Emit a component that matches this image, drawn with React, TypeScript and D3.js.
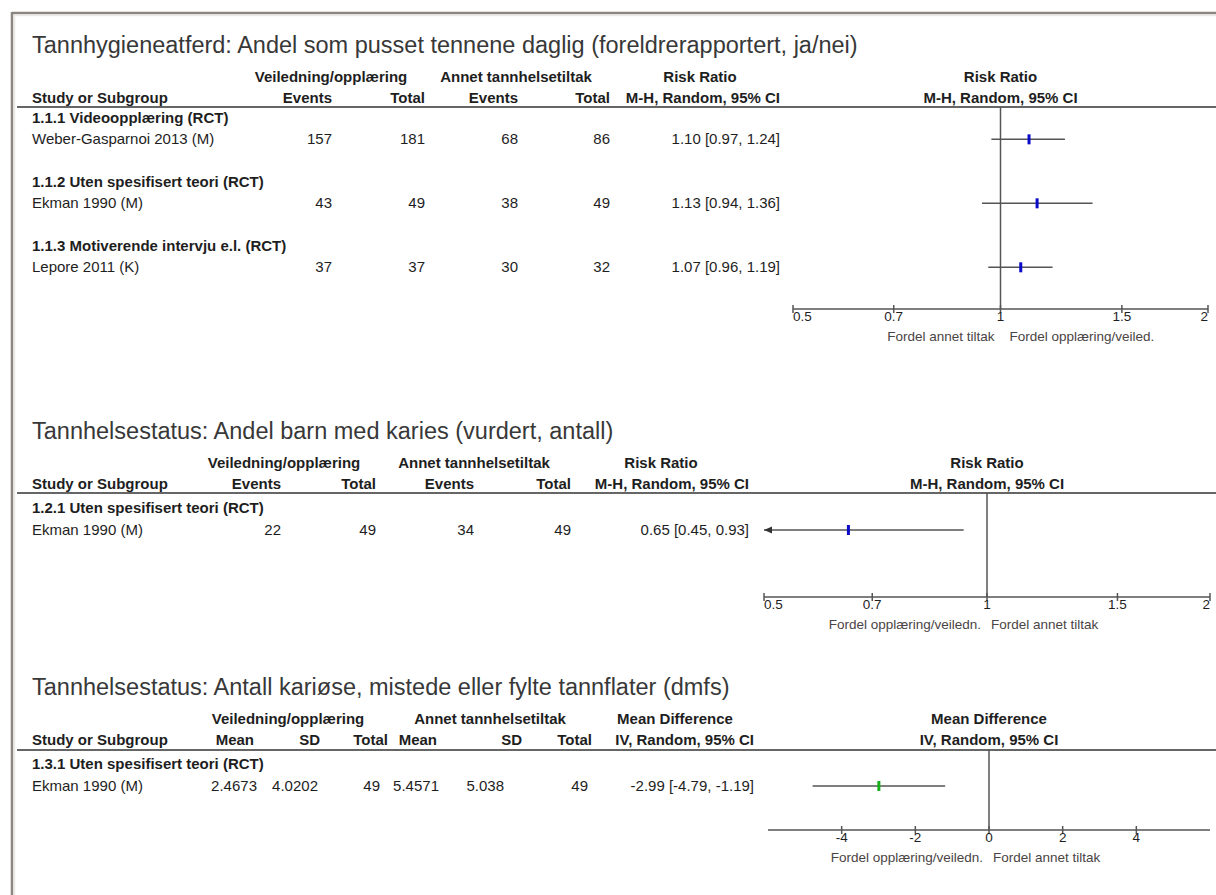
import * as React from "react";
import * as d3 from "d3";

// --- data: panel 1, Tannhygieneatferd (risk ratio)
const p1Title = "Tannhygieneatferd: Andel som pusset tennene daglig (foreldrerapportert, ja/nei)";
const p1Subgroups = [
  "1.1.1 Videoopplæring (RCT)",
  "1.1.2 Uten spesifisert teori (RCT)",
  "1.1.3 Motiverende intervju e.l. (RCT)",
];
const p1Studies = ["Weber-Gasparnoi 2013 (M)", "Ekman 1990 (M)", "Lepore 2011 (K)"];
const p1EventsA = [157, 43, 37];
const p1TotalA = [181, 49, 37];
const p1EventsB = [68, 38, 30];
const p1TotalB = [86, 49, 32];
const p1Est = [1.1, 1.13, 1.07];
const p1Lo = [0.97, 0.94, 0.96];
const p1Hi = [1.24, 1.36, 1.19];

// --- data: panel 2, Andel barn med karies (risk ratio)
const p2Title = "Tannhelsestatus: Andel barn med karies (vurdert, antall)";
const p2Subgroups = ["1.2.1 Uten spesifisert teori (RCT)"];
const p2Studies = ["Ekman 1990 (M)"];
const p2EventsA = [22];
const p2TotalA = [49];
const p2EventsB = [34];
const p2TotalB = [49];
const p2Est = [0.65];
const p2Lo = [0.45];
const p2Hi = [0.93];

// --- data: panel 3, dmfs (mean difference)
const p3Title = "Tannhelsestatus: Antall kariøse, mistede eller fylte tannflater (dmfs)";
const p3Subgroups = ["1.3.1 Uten spesifisert teori (RCT)"];
const p3Studies = ["Ekman 1990 (M)"];
const p3MeanA = ["2.4673"];
const p3SdA = ["4.0202"];
const p3TotalA = [49];
const p3MeanB = ["5.4571"];
const p3SdB = ["5.038"];
const p3TotalB = [49];
const p3Est = [-2.99];
const p3Lo = [-4.79];
const p3Hi = [-1.19];

const groupA = "Veiledning/opplæring";
const groupB = "Annet tannhelsetiltak";
const rrTicks = [0.5, 0.7, 1, 1.5, 2];
const mdTicks = [-4, -2, 0, 2, 4];

const FONT = "'Liberation Sans', Arial, Helvetica, sans-serif";
const INK = "#1e1e1e";
const LINE = "#555";

const fmt = (v: number) => v.toFixed(2);
const ciText = (e: number, l: number, h: number) => `${fmt(e)} [${fmt(l)}, ${fmt(h)}]`;

// x = header right edge, vx = value right edge (defaults to x)
type Col = { x: number; vx?: number; label: string; values: (string | number)[] };

type PanelProps = {
  title: string;
  titleY: number;
  groupY: number;
  headY: number;
  lineY: number;
  rowY0: number;
  rowH: number;
  axisY: number;
  groupAX: number;
  groupBX: number;
  effX: number;
  effTitle: string;
  effSub: string;
  ciX: number;
  cols: Col[];
  subgroups: string[];
  studies: string[];
  est: number[];
  lo: number[];
  hi: number[];
  ratio: boolean;
  range: [number, number];
  ticks: number[];
  leftLabel: string;
  rightLabel: string;
  marker: string;
  labelGap: number;
};

const Panel = (p: PanelProps) => {
  const x = p.ratio
    ? d3.scaleLog().domain([0.5, 2]).range(p.range)
    : d3.scaleLinear().domain([-6, 6]).range(p.range);
  const nullX = x(p.ratio ? 1 : 0);
  const cx = (p.range[0] + p.range[1]) / 2;
  // each subgroup takes 3 rows: header, study, blank
  const subY = (i: number) => p.rowY0 + i * 3 * p.rowH;
  const studyY = (i: number) => subY(i) + p.rowH;
  const clampLo = x.domain()[0];
  const clampHi = x.domain()[1];

  return (
    <g fontFamily={FONT} fill={INK}>
      <text x={32} y={p.titleY} fontSize={23.5} fill="#383838">
        {p.title}
      </text>

      <g fontSize={15} fontWeight="bold">
        <text x={p.groupAX} y={p.groupY} textAnchor="middle">{groupA}</text>
        <text x={p.groupBX} y={p.groupY} textAnchor="middle">{groupB}</text>
        <text x={p.effX} y={p.groupY} textAnchor="middle">{p.effTitle}</text>
        <text x={cx} y={p.groupY} textAnchor="middle">{p.effTitle}</text>
        <text x={32} y={p.headY}>Study or Subgroup</text>
        {p.cols.map((c, i) => (
          <text key={i} x={c.x} y={p.headY} textAnchor="end">{c.label}</text>
        ))}
        <text x={p.ciX} y={p.headY} textAnchor="end">{p.effSub}</text>
        <text x={cx} y={p.headY} textAnchor="middle">{p.effSub}</text>
        {p.subgroups.map((s, i) => (
          <text key={s} x={32} y={subY(i) + 5}>{s}</text>
        ))}
      </g>

      <line x1={17} x2={1216} y1={p.lineY} y2={p.lineY} stroke="#333" strokeWidth={1.6} />

      <g fontSize={15}>
        {p.studies.map((s, i) => (
          <g key={s}>
            <text x={32} y={studyY(i) + 5}>{s}</text>
            {p.cols.map((c, j) => (
              <text key={j} x={c.vx ?? c.x} y={studyY(i) + 5} textAnchor="end">{c.values[i]}</text>
            ))}
            <text x={p.ciX} y={studyY(i) + 5} textAnchor="end">{ciText(p.est[i], p.lo[i], p.hi[i])}</text>
          </g>
        ))}
      </g>

      {/* forest plot */}
      <line x1={nullX} x2={nullX} y1={p.lineY} y2={p.axisY} stroke={LINE} strokeWidth={1.5} />
      {p.studies.map((s, i) => {
        const y = studyY(i);
        const lo = Math.max(p.lo[i], clampLo);
        const hi = Math.min(p.hi[i], clampHi);
        const x0 = x(lo);
        return (
          <g key={s}>
            <line x1={x0} x2={x(hi)} y1={y} y2={y} stroke={LINE} strokeWidth={1.5} />
            {p.lo[i] < clampLo && (
              <path d={`M${x0},${y}l8,-3.5v7z`} fill="#333" />
            )}
            <rect x={x(p.est[i]) - 1.5} y={y - 5} width={3} height={10} fill={p.marker} />
          </g>
        );
      })}

      <line x1={p.range[0]} x2={p.range[1]} y1={p.axisY} y2={p.axisY} stroke={LINE} strokeWidth={1.5} />
      <g fontSize={13.5}>
        {p.ticks.map((t) => {
          const tx = x(t);
          const anchor = tx <= p.range[0] + 1 ? "start" : tx >= p.range[1] - 1 ? "end" : "middle";
          return (
            <g key={t}>
              <line x1={tx} x2={tx} y1={p.axisY - 4} y2={p.axisY + 4} stroke={LINE} strokeWidth={1.5} />
              <text x={tx} y={p.axisY + 12} textAnchor={anchor}>{t}</text>
            </g>
          );
        })}
      </g>
      <g fontSize={13.5} fill="#4a4444">
        <text x={nullX - 6} y={p.axisY + 32} textAnchor="end">{p.leftLabel}</text>
        <text x={nullX + p.labelGap} y={p.axisY + 32}>{p.rightLabel}</text>
      </g>
    </g>
  );
};

export default function App() {
  return (
    <svg
      width={1216}
      height={895}
      style={{ position: "absolute", left: 0, top: 0, background: "#fff" }}
    >
      <rect width={1216} height={895} fill="#fff" />
      {/* frame */}
      <line x1={12} x2={1216} y1={13} y2={13} stroke="#8a857f" strokeWidth={2.5} />
      <line x1={12} x2={12} y1={12} y2={895} stroke="#8a857f" strokeWidth={2.5} />
      <line x1={14} x2={1216} y1={15.5} y2={15.5} stroke="#ebe9e6" strokeWidth={1.5} />
      <line x1={14.5} x2={14.5} y1={15} y2={895} stroke="#ebe9e6" strokeWidth={1.5} />

      <Panel
        title={p1Title}
        titleY={53}
        groupY={82}
        headY={103}
        lineY={107}
        rowY0={118}
        rowH={21.33}
        axisY={309}
        groupAX={331}
        groupBX={516}
        effX={700}
        effTitle="Risk Ratio"
        effSub="M-H, Random, 95% CI"
        ciX={780}
        cols={[
          { x: 332, label: "Events", values: p1EventsA },
          { x: 425, label: "Total", values: p1TotalA },
          { x: 518, label: "Events", values: p1EventsB },
          { x: 610, label: "Total", values: p1TotalB },
        ]}
        subgroups={p1Subgroups}
        studies={p1Studies}
        est={p1Est}
        lo={p1Lo}
        hi={p1Hi}
        ratio
        range={[793, 1208]}
        ticks={rrTicks}
        leftLabel="Fordel annet tiltak"
        rightLabel="Fordel opplæring/veiled."
        marker="#0a0ac8"
        labelGap={9}
      />

      <Panel
        title={p2Title}
        titleY={439}
        groupY={468}
        headY={489}
        lineY={493}
        rowY0={508}
        rowH={22}
        axisY={597}
        groupAX={284}
        groupBX={474}
        effX={661}
        effTitle="Risk Ratio"
        effSub="M-H, Random, 95% CI"
        ciX={749}
        cols={[
          { x: 281, label: "Events", values: p2EventsA },
          { x: 376, label: "Total", values: p2TotalA },
          { x: 474, label: "Events", values: p2EventsB },
          { x: 571, label: "Total", values: p2TotalB },
        ]}
        subgroups={p2Subgroups}
        studies={p2Studies}
        est={p2Est}
        lo={p2Lo}
        hi={p2Hi}
        ratio
        range={[764, 1210]}
        ticks={rrTicks}
        leftLabel="Fordel opplæring/veiledn."
        rightLabel="Fordel annet tiltak"
        marker="#0a0ac8"
        labelGap={4}
      />

      <Panel
        title={p3Title}
        titleY={695}
        groupY={724}
        headY={745}
        lineY={750}
        rowY0={764}
        rowH={22}
        axisY={830}
        groupAX={288}
        groupBX={490}
        effX={675}
        effTitle="Mean Difference"
        effSub="IV, Random, 95% CI"
        ciX={754}
        cols={[
          { x: 254, vx: 257, label: "Mean", values: p3MeanA },
          { x: 320, vx: 318, label: "SD", values: p3SdA },
          { x: 388, vx: 380, label: "Total", values: p3TotalA },
          { x: 437, vx: 439, label: "Mean", values: p3MeanB },
          { x: 522, vx: 504, label: "SD", values: p3SdB },
          { x: 592, vx: 588, label: "Total", values: p3TotalB },
        ]}
        subgroups={p3Subgroups}
        studies={p3Studies}
        est={p3Est}
        lo={p3Lo}
        hi={p3Hi}
        ratio={false}
        range={[768, 1210]}
        ticks={mdTicks}
        leftLabel="Fordel opplæring/veiledn."
        rightLabel="Fordel annet tiltak"
        marker="#18b018"
        labelGap={4}
      />
    </svg>
  );
}
